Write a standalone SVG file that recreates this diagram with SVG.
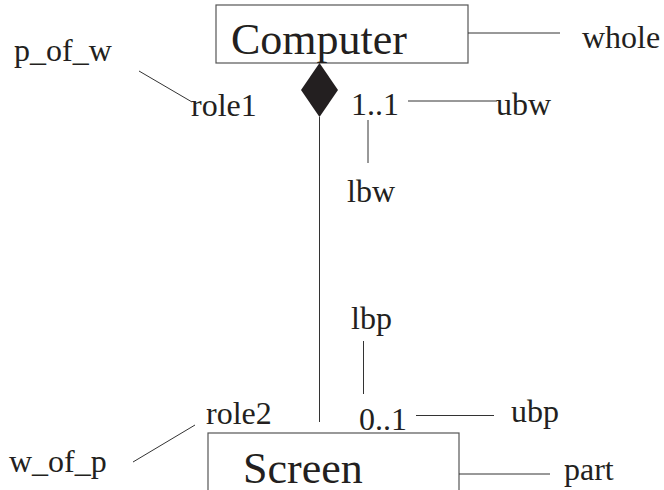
<svg xmlns="http://www.w3.org/2000/svg" width="664" height="490" viewBox="0 0 664 490">
<style>
text{font-family:'Liberation Serif','Times New Roman',Tinos,'DejaVu Serif',serif;fill:#231f20}
.lbl{font-size:32px}
.big{font-size:44px}
.box{fill:#fff;stroke:#555;stroke-width:1.2}
.ln{stroke:#333;stroke-width:1;fill:none}
</style>
<rect width="664" height="490" fill="#fff"/>
<g id="computer">
<rect class="box" x="216" y="5" width="252" height="58"/>
<text class="big" x="231" y="54" font-family="Liberation Serif">Computer</text>
</g>
<g id="screen">
<rect class="box" x="208" y="433" width="251" height="70"/>
<text class="big" x="243" y="483" font-family="Liberation Serif">Screen</text>
</g>
<g id="connectors">
<line class="ln" x1="319.5" y1="117" x2="319.5" y2="422"/>
<polygon points="319.5,63 338,90 319.5,117 301,90" fill="#231f20"/>
<line class="ln" x1="468" y1="33" x2="560" y2="33"/>
<line class="ln" x1="139" y1="71" x2="192" y2="102"/>
<line class="ln" x1="408" y1="101" x2="497" y2="101"/>
<line class="ln" x1="368" y1="120" x2="368" y2="163"/>
<line class="ln" x1="363.5" y1="341" x2="363.5" y2="394"/>
<line class="ln" x1="416" y1="415.5" x2="494" y2="415.5"/>
<line class="ln" x1="459" y1="474" x2="550" y2="474"/>
<line class="ln" x1="133" y1="462" x2="195" y2="425"/>
</g>
<g id="labels" font-family="Liberation Serif">
<text class="lbl" x="582" y="48">whole</text>
<text class="lbl" x="14" y="61">p_of_w</text>
<text class="lbl" x="191" y="116">role1</text>
<text class="lbl" x="351" y="115">1..1</text>
<text class="lbl" x="496" y="115">ubw</text>
<text class="lbl" x="347" y="202">lbw</text>
<text class="lbl" x="351" y="329">lbp</text>
<text class="lbl" x="206" y="424">role2</text>
<text class="lbl" x="359" y="430">0..1</text>
<text class="lbl" x="511" y="422">ubp</text>
<text class="lbl" x="9" y="472">w_of_p</text>
<text class="lbl" x="564" y="480">part</text>
</g>
</svg>
